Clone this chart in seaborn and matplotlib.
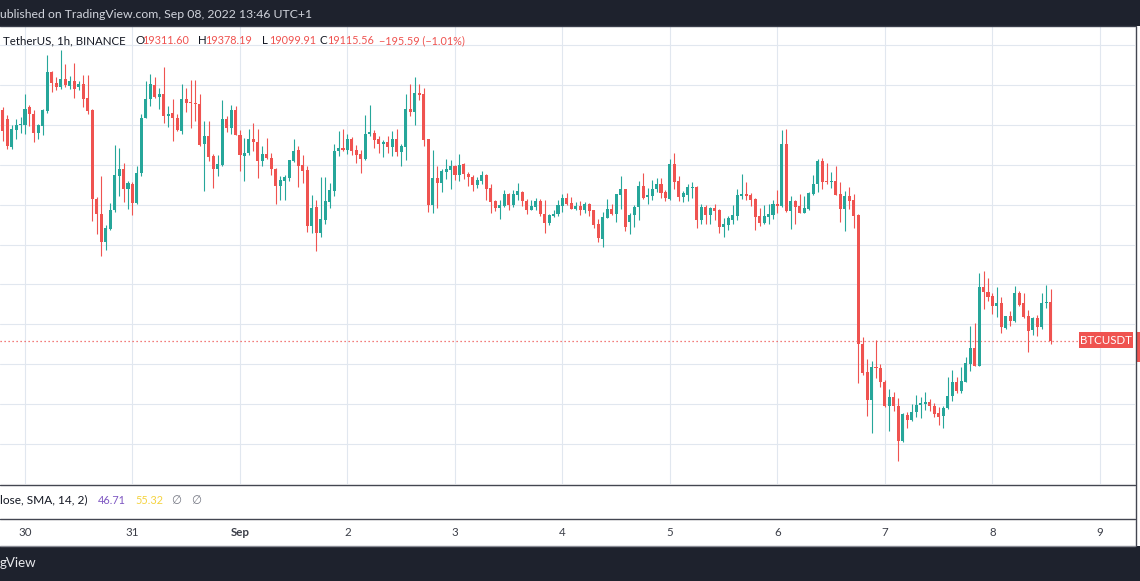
import matplotlib
matplotlib.use("Agg")
import matplotlib.pyplot as plt
import matplotlib.dates as mdates
import matplotlib.transforms as mtransforms
from matplotlib.patches import Rectangle
from matplotlib.lines import Line2D
import numpy as np
import pandas as pd
import seaborn as sns

# ---------------- data ----------------
start_time = "2022-08-29 19:00"   # first 1h candle
opens = [20277, 20228, 20092, 20173, 20198, 20201, 20288, 20253, 20159, 20194,
         20268, 20464, 20412, 20390, 20432, 20397, 20421, 20390, 20404, 20334,
         20273, 19829, 19754, 19612, 19679, 19771, 19942, 19977, 19880, 19905,
         19809, 19960, 20235, 20329, 20399, 20340, 20354, 20243, 20260, 20236,
         20169, 20332, 20313, 20310, 20307, 20104, 20143, 20042, 19977, 19997,
         20228, 20186, 20277, 20151, 20044, 20059, 20128, 20117, 20019, 20056,
         20035, 19980, 19893, 19921, 19935, 20019, 20077, 19997, 19972, 19693,
         19788, 19657, 19721, 19813, 19868, 20068, 20086, 20073, 20131, 20073,
         20053, 20028, 20153, 20160, 20128, 20103, 20115, 20090, 20131, 20064,
         20090, 20282, 20265, 20363, 20354, 20128, 19796, 19935, 19909, 19964,
         19972, 19992, 19950, 20002, 19956, 19940, 19900, 19919, 19947, 19885,
         19817, 19783, 19793, 19852, 19796, 19847, 19863, 19817, 19775, 19788,
         19817, 19755, 19708, 19743, 19751, 19793, 19833, 19808, 19780, 19793,
         19771, 19801, 19771, 19701, 19627, 19734, 19777, 19752, 19851, 19878,
         19711, 19747, 19789, 19893, 19840, 19845, 19878, 19903, 19865, 19831,
         20004, 19920, 19840, 19848, 19886, 19888, 19722, 19789, 19747, 19784,
         19772, 19689, 19697, 19722, 19742, 19843, 19856, 19848, 19828, 19742,
         19709, 19739, 19747, 19806, 19794, 20104, 19769, 19818, 19793, 19759,
         19778, 19856, 19903, 20019, 19920, 19915, 19918, 19852, 19776, 19842,
         19822, 19746, 19101, 18962, 18822, 18987, 18981, 18912, 18788, 18837,
         18791, 18612, 18746, 18721, 18758, 18795, 18800, 18808, 18791, 18753,
         18738, 18778, 18838, 18909, 18867, 18912, 19001, 19080, 18992, 19389,
         19364, 19341, 19291, 19309, 19180, 19239, 19215, 19356, 19306, 19239,
         19172, 19230, 19185, 19306, 19311.60]
highs = [20290, 20248, 20198, 20228, 20240, 20354, 20298, 20273, 20203, 20278,
         20550, 20469, 20441, 20575, 20504, 20446, 20511, 20419, 20449, 20449,
         20278, 19841, 19942, 19700, 19809, 20102, 20086, 20010, 19918, 19913,
         19992, 20257, 20419, 20458, 20441, 20385, 20491, 20293, 20332, 20257,
         20407, 20387, 20424, 20424, 20354, 20218, 20218, 20056, 20047, 20327,
         20243, 20302, 20295, 20173, 20136, 20181, 20210, 20181, 20097, 20136,
         20060, 19983, 19942, 19947, 20025, 20128, 20097, 20048, 19992, 19847,
         19822, 19939, 19939, 19909, 20103, 20170, 20178, 20153, 20140, 20098,
         20076, 20249, 20299, 20173, 20143, 20123, 20143, 20170, 20178, 20103,
         20354, 20404, 20441, 20404, 20388, 20130, 20076, 19992, 19981, 20028,
         20023, 20001, 20056, 20009, 19964, 19947, 19939, 19969, 19952, 19902,
         19822, 19822, 19872, 19858, 19872, 19909, 19868, 19830, 19825, 19833,
         19830, 19825, 19751, 19775, 19825, 19855, 19858, 19838, 19813, 19817,
         19813, 19810, 19775, 19729, 19761, 19831, 19803, 19855, 19943, 19880,
         19759, 19798, 19918, 19957, 19886, 19923, 19932, 19932, 19873, 20029,
         20061, 19943, 19870, 19906, 19915, 19893, 19803, 19798, 19789, 19806,
         19778, 19731, 19742, 19798, 19881, 19953, 19915, 19860, 19836, 19781,
         19798, 19803, 19823, 19873, 20175, 20180, 19843, 19826, 19856, 19843,
         19865, 19948, 20027, 20032, 20007, 19962, 19994, 19914, 19867, 19889,
         19855, 19755, 19138, 19023, 19013, 19121, 19001, 18922, 18875, 18862,
         18830, 18752, 18761, 18800, 18847, 18833, 18862, 18825, 18803, 18786,
         18788, 18934, 18972, 18937, 18984, 19034, 19190, 19205, 19456, 19466,
         19431, 19356, 19386, 19336, 19241, 19264, 19394, 19369, 19356, 19269,
         19235, 19244, 19356, 19399, 19378.19]
lows = [20122, 20081, 20081, 20128, 20161, 20156, 20193, 20114, 20128, 20148,
        20260, 20365, 20377, 20382, 20390, 20382, 20337, 20374, 20290, 20257,
        19716, 19654, 19541, 19575, 19674, 19762, 19846, 19816, 19776, 19746,
        19804, 19942, 20233, 20295, 20335, 20282, 20210, 20190, 20122, 20169,
        20156, 20265, 20185, 20220, 20094, 19871, 20019, 19883, 19942, 19992,
        20164, 20156, 20148, 19968, 19918, 20050, 20072, 19935, 19994, 20030,
        19950, 19804, 19824, 19824, 19918, 20014, 19888, 19909, 19662, 19657,
        19567, 19637, 19704, 19783, 19843, 20044, 20068, 20053, 20048, 20011,
        19959, 20026, 20145, 20086, 20059, 20039, 20061, 20044, 20043, 19994,
        20023, 20245, 20202, 20324, 20095, 19763, 19758, 19783, 19863, 19927,
        19877, 19925, 19919, 19927, 19894, 19868, 19883, 19905, 19825, 19758,
        19768, 19728, 19790, 19775, 19788, 19822, 19793, 19751, 19771, 19775,
        19741, 19657, 19696, 19738, 19743, 19763, 19800, 19776, 19771, 19746,
        19760, 19743, 19682, 19615, 19588, 19732, 19747, 19714, 19777, 19667,
        19652, 19689, 19722, 19831, 19803, 19823, 19865, 19835, 19818, 19826,
        19878, 19818, 19814, 19819, 19836, 19684, 19705, 19705, 19705, 19722,
        19660, 19638, 19675, 19705, 19722, 19831, 19826, 19794, 19675, 19692,
        19702, 19705, 19727, 19759, 19789, 19761, 19677, 19702, 19756, 19756,
        19772, 19851, 19865, 19878, 19906, 19886, 19848, 19713, 19666, 19776,
        19683, 18904, 18947, 18738, 18652, 18929, 18884, 18785, 18662, 18763,
        18515, 18610, 18677, 18713, 18733, 18728, 18771, 18766, 18733, 18696,
        18677, 18776, 18817, 18853, 18853, 18909, 18964, 18990, 18990, 19274,
        19316, 19249, 19235, 19155, 19177, 19193, 19213, 19291, 19230, 19059,
        19148, 19143, 19177, 19280, 19099.91]
closes = [20169, 20094, 20178, 20201, 20203, 20282, 20253, 20159, 20198, 20273,
          20464, 20412, 20390, 20432, 20399, 20421, 20382, 20404, 20329, 20270,
          19829, 19754, 19615, 19684, 19774, 19947, 19977, 19880, 19908, 19809,
          19960, 20236, 20332, 20404, 20340, 20354, 20245, 20257, 20236, 20173,
          20332, 20310, 20310, 20307, 20102, 20143, 20039, 19977, 20002, 20228,
          20186, 20277, 20151, 20050, 20060, 20128, 20114, 20019, 20056, 20034,
          19977, 19893, 19925, 19938, 20022, 20072, 19994, 19967, 19693, 19783,
          19657, 19726, 19817, 19872, 20068, 20085, 20073, 20131, 20069, 20048,
          20028, 20157, 20165, 20123, 20103, 20115, 20090, 20131, 20064, 20093,
          20282, 20265, 20363, 20351, 20126, 19796, 19935, 19909, 19967, 19977,
          19992, 19950, 20001, 19956, 19939, 19900, 19922, 19947, 19877, 19813,
          19783, 19796, 19852, 19796, 19852, 19867, 19817, 19775, 19793, 19817,
          19755, 19708, 19750, 19755, 19796, 19833, 19805, 19780, 19793, 19771,
          19801, 19768, 19696, 19634, 19736, 19777, 19752, 19853, 19878, 19689,
          19747, 19789, 19893, 19836, 19848, 19881, 19903, 19860, 19835, 20004,
          19915, 19840, 19860, 19890, 19890, 19722, 19789, 19747, 19781, 19767,
          19689, 19702, 19731, 19747, 19848, 19856, 19843, 19823, 19739, 19709,
          19742, 19752, 19806, 19794, 20104, 19769, 19818, 19789, 19759, 19781,
          19861, 19906, 20019, 19915, 19915, 19918, 19851, 19776, 19842, 19818,
          19743, 19101, 18956, 18822, 18987, 18979, 18909, 18788, 18837, 18788,
          18612, 18750, 18721, 18761, 18796, 18803, 18808, 18788, 18750, 18736,
          18780, 18842, 18909, 18867, 18917, 19004, 19080, 18992, 19389, 19361,
          19336, 19291, 19309, 19185, 19239, 19215, 19356, 19299, 19235, 19168,
          19230, 19185, 19309, 19311.15, 19115.56]

symbol_label = "BTCUSDT"
legend_title = "TetherUS, 1h, BINANCE"
published_text = "ublished on TradingView.com, Sep 08, 2022 13:46 UTC+1"
indicator_label = "lose, SMA, 14, 2)"
indicator_values = ["46.71", "55.32"]
day_ticks = ["2022-08-30", "2022-08-31", "2022-09-01", "2022-09-02", "2022-09-03",
             "2022-09-04", "2022-09-05", "2022-09-06", "2022-09-07", "2022-09-08",
             "2022-09-09"]
day_labels = ["30", "31", "Sep", "2", "3", "4", "5", "6", "7", "8", "9"]
footer_text = "gView"

# ---------------- style ----------------
sns.set_style("white")
plt.rcParams["font.family"] = ["Lato", "DejaVu Sans"]

W, H = 1140, 581
UP, DOWN = "#26a69a", "#ef5350"
DARK = "#1e222d"
TXT = "#131722"
GRID = "#e1e7ef"
SEP = "#434651"

df = pd.DataFrame({"time": pd.date_range(start_time, periods=len(opens), freq="h"),
                   "open": opens, "high": highs, "low": lows, "close": closes})
df["x"] = mdates.date2num(df["time"])
df["up"] = df["close"] >= df["open"]
df["color"] = np.where(df["up"], UP, DOWN)

fig = plt.figure(figsize=(W / 100, H / 100), dpi=100)
fig.patch.set_facecolor("white")

def fx(px):
    return px / W

def fy(py):
    return 1 - py / H

# axis scale: 4.479 px per hour, Aug 30 00:00 at x=25 px
px_per_hour = 4.479
d0 = mdates.date2num(pd.Timestamp("2022-08-30"))
xlim = (d0 - (25 / px_per_hour) / 24, d0 + ((1135 - 25) / px_per_hour) / 24)
ylim = (18398, 20697)

ax = fig.add_axes([0, fy(484), fx(1135), (484 - 26) / H])
ax.set_xlim(*xlim)
ax.set_ylim(*ylim)
ax.set_xticks([mdates.date2num(pd.Timestamp(d)) for d in day_ticks])
ax.set_yticks(np.arange(18400, 20700, 200))
ax.grid(True, color=GRID, lw=0.8)
ax.tick_params(length=0, labelbottom=False, labelleft=False)
for s in ax.spines.values():
    s.set_visible(False)
ax.set_axisbelow(True)

# wicks
ax.vlines(df["x"], df["low"], df["high"], colors=df["color"], lw=0.8, zorder=3)
# bodies
body_bottom = np.minimum(df["open"], df["close"])
body_h = np.maximum(np.abs(df["close"] - df["open"]), 4)
ax.bar(df["x"], body_h, bottom=body_bottom, width=0.68 / 24, color=df["color"],
       linewidth=0, zorder=4)

last_close = closes[-1]
ax.axhline(last_close, xmin=0, xmax=1079 / 1135, color=DOWN, lw=0.9,
           ls=(0, (1, 2.2)), zorder=2)

# legend line
leg_y = fy(41)
fs = 8.3
fsv = 7.8
fig.text(fx(3), leg_y, legend_title, color=TXT, fontsize=fs, va="center")
ohlc = [("O", opens[-1], 135), ("H", highs[-1], 198), ("L", lows[-1], 262), ("C", closes[-1], 320)]
for lab, val, px in ohlc:
    fig.text(fx(px), leg_y, lab, color=TXT, fontsize=fs, va="center")
    fig.text(fx(px + 7), leg_y, f"{val:.2f}", color=DOWN, fontsize=fsv, va="center")
chg = closes[-1] - closes[-2]
pct = chg / closes[-2] * 100
chg_txt = f"{chg:.2f} ({pct:.2f}%)".replace("-", "\u2212")
fig.text(fx(379), leg_y, chg_txt, color=DOWN, fontsize=fsv, va="center")

# BTCUSDT label
fig.patches.append(Rectangle((fx(1079), fy(348)), 54 / W, 16 / H, transform=fig.transFigure,
                             facecolor=DOWN, edgecolor="none", zorder=5))
fig.text(fx(1106), fy(340.5), symbol_label, color="white", fontsize=8.3, ha="center",
         va="center", zorder=6)
fig.patches.append(Rectangle((fx(1136.5), fy(362)), 4 / W, 30 / H, transform=fig.transFigure,
                             facecolor=DOWN, edgecolor="none", zorder=5))

# top and bottom dark bars
fig.patches.append(Rectangle((0, fy(26)), 1, 26 / H, transform=fig.transFigure,
                             facecolor=DARK, edgecolor="none", zorder=1))
fig.patches.append(Rectangle((0, 0), 1, (H - 546) / H, transform=fig.transFigure,
                             facecolor=DARK, edgecolor="none", zorder=1))
fig.text(fx(0), fy(14), published_text, color="#d1d4dc", fontsize=8.8, va="center")
fig.text(fx(0), fy(563), footer_text, color="#e8e9ec", fontsize=9.6, va="center")

# separator lines
for yy, col in [(26, "#3a3e4a"), (484.5, SEP), (518.5, SEP), (545.5, "#8a8d96")]:
    fig.lines.append(Line2D([0, fx(1135)], [fy(yy), fy(yy)], transform=fig.transFigure,
                            color=col, lw=1.0, zorder=6))
fig.lines.append(Line2D([fx(1135.5), fx(1135.5)], [fy(26), fy(546)], transform=fig.transFigure,
                        color=SEP, lw=1.0, zorder=6))

# indicator pane text
ind_y = fy(500)
fig.text(fx(0), ind_y, indicator_label, color=TXT, fontsize=8.6, va="center")
fig.text(fx(98), ind_y, indicator_values[0], color="#7e57c2", fontsize=fsv, va="center")
fig.text(fx(135), ind_y, indicator_values[1], color="#f5d33f", fontsize=fsv, va="center")
fig.text(fx(171), ind_y, "\u2205", color="#787b86", fontsize=fs, va="center")
fig.text(fx(191), ind_y, "\u2205", color="#787b86", fontsize=fs, va="center")

# time axis
tax = fig.add_axes([0, fy(546), fx(1135), (546 - 519) / H])
tax.set_xlim(*xlim)
tax.set_ylim(0, 1)
tax.axis("off")
trans = mtransforms.blended_transform_factory(tax.transData, tax.transAxes)
for d, lab in zip(day_ticks, day_labels):
    tax.text(mdates.date2num(pd.Timestamp(d)), 0.5, lab, transform=trans, ha="center",
             va="center", fontsize=8.3, color="#3b3e48",
             fontweight="bold" if lab == "Sep" else "normal")

fig.savefig("out.png", dpi=100, facecolor="white")
